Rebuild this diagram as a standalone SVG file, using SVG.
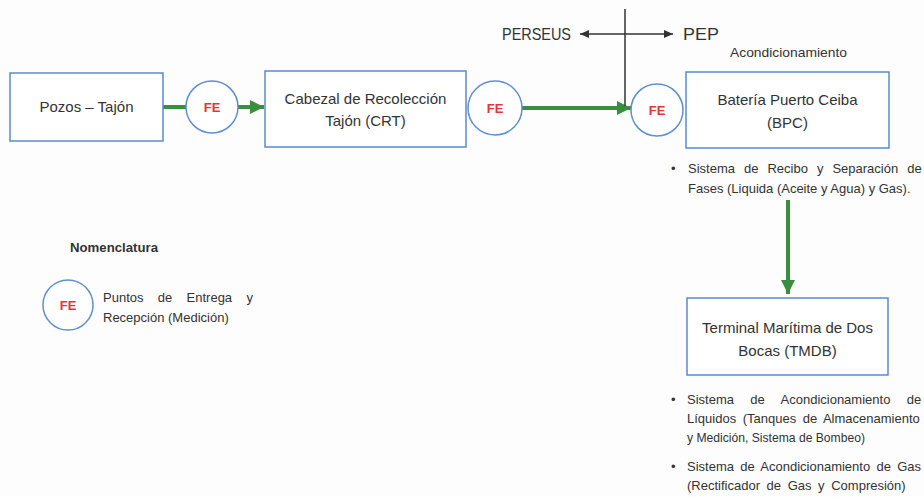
<svg xmlns="http://www.w3.org/2000/svg" width="924" height="497" viewBox="0 0 924 497">
<defs>
<style>
.box{fill:#ffffff;stroke:#5a8ad0;stroke-width:1.5}
.fe{fill:#ffffff;stroke:#5f8fcf;stroke-width:1.5}
.fet{font-family:"Liberation Sans",Arial,sans-serif;font-size:13px;font-weight:bold;fill:#e8323c;text-anchor:middle}
.lbl{font-family:"Liberation Sans",Arial,sans-serif;font-size:15px;fill:#333333;text-anchor:middle}
.sm{font-family:"Liberation Sans",Arial,sans-serif;font-size:13px;fill:#333333}
.big{font-family:"Liberation Sans",Arial,sans-serif;font-size:17px;fill:#333333}
.g{stroke:#3a8f3e;stroke-width:4;fill:none}
.k{stroke:#333333;stroke-width:1.5;fill:none}
</style>
<marker id="ga" markerUnits="userSpaceOnUse" markerWidth="14" markerHeight="14" viewBox="0 0 14 14" refX="14" refY="7" orient="auto">
<path d="M0,0 L14,7 L0,14 z" fill="#3a8f3e"/>
</marker>
<marker id="ka" markerUnits="userSpaceOnUse" markerWidth="9" markerHeight="8" viewBox="0 0 9 8" refX="9" refY="4" orient="auto-start-reverse">
<path d="M0,0 L9,4 L0,8 z" fill="#333333"/>
</marker>
</defs>
<rect width="924" height="497" fill="#fdfdfd"/>

<g id="connectors">
<line class="g" x1="163" y1="107" x2="186" y2="107"/>
<line class="g" x1="238" y1="107" x2="264" y2="107" marker-end="url(#ga)"/>
<line class="g" x1="522" y1="108" x2="631" y2="108" marker-end="url(#ga)"/>
<line class="g" x1="788" y1="200" x2="788" y2="294" marker-end="url(#ga)"/>
<line class="k" x1="625" y1="9" x2="625" y2="106"/>
<line class="k" x1="580" y1="34" x2="673" y2="34" marker-start="url(#ka)" marker-end="url(#ka)"/>
</g>

<g id="pozos">
<rect class="box" x="10" y="73" width="153" height="68"/>
<text class="lbl" x="86.5" y="112">Pozos – Tajón</text>
</g>

<g id="fe1">
<circle class="fe" cx="212" cy="107" r="26"/>
<text class="fet" x="212" y="112">FE</text>
</g>

<g id="crt">
<rect class="box" x="265" y="71" width="201" height="76"/>
<text class="lbl" x="365.5" y="104">Cabezal de Recolección</text>
<text class="lbl" x="365.5" y="126">Tajón (CRT)</text>
</g>

<g id="fe2">
<circle class="fe" cx="495" cy="108" r="27"/>
<text class="fet" x="495" y="113">FE</text>
</g>

<g id="perseus">
<text class="big" x="502" y="40" textLength="69" lengthAdjust="spacingAndGlyphs">PERSEUS</text>
</g>

<g id="pep">
<text class="big" x="683" y="40" textLength="36" lengthAdjust="spacingAndGlyphs">PEP</text>
<text class="sm" x="730" y="57" font-size="12" textLength="117" lengthAdjust="spacingAndGlyphs">Acondicionamiento</text>
</g>

<g id="fe3">
<circle class="fe" cx="657" cy="110" r="26"/>
<text class="fet" x="657" y="115">FE</text>
</g>

<g id="bpc">
<rect class="box" x="686" y="72" width="203" height="76"/>
<text class="lbl" x="787.5" y="105">Batería Puerto Ceiba</text>
<text class="lbl" x="787.5" y="128">(BPC)</text>
<text class="sm" x="671" y="173">•</text>
<text class="sm" x="688" y="173" style="word-spacing:5.4px">Sistema de Recibo y Separación de</text>
<text class="sm" x="688" y="193">Fases (Liquida (Aceite y Agua) y Gas).</text>
</g>

<g id="tmdb">
<rect class="box" x="687" y="298" width="201" height="77"/>
<text class="lbl" x="787.5" y="333">Terminal Marítima de Dos</text>
<text class="lbl" x="787.5" y="356">Bocas (TMDB)</text>
<text class="sm" x="671" y="404">•</text>
<text class="sm" x="687" y="404" style="word-spacing:12.8px">Sistema de Acondicionamiento de</text>
<text class="sm" x="687" y="423" style="word-spacing:2.9px">Líquidos (Tanques de Almacenamiento</text>
<text class="sm" x="687" y="442" textLength="178" lengthAdjust="spacingAndGlyphs">y Medición, Sistema de Bombeo)</text>
<text class="sm" x="671" y="471">•</text>
<text class="sm" x="687" y="471" style="word-spacing:2.7px">Sistema de Acondicionamiento de Gas</text>
<text class="sm" x="687" y="490" style="word-spacing:3px">(Rectificador de Gas y Compresión)</text>
</g>

<g id="legend">
<text class="sm" x="70" y="252" font-size="11.5" font-weight="bold" textLength="88" lengthAdjust="spacingAndGlyphs">Nomenclatura</text>
<circle class="fe" cx="68" cy="305" r="25"/>
<text class="fet" x="68" y="310">FE</text>
<text class="sm" x="103" y="302" style="word-spacing:10.7px">Puntos de Entrega y</text>
<text class="sm" x="103" y="322">Recepción (Medición)</text>
</g>
</svg>
